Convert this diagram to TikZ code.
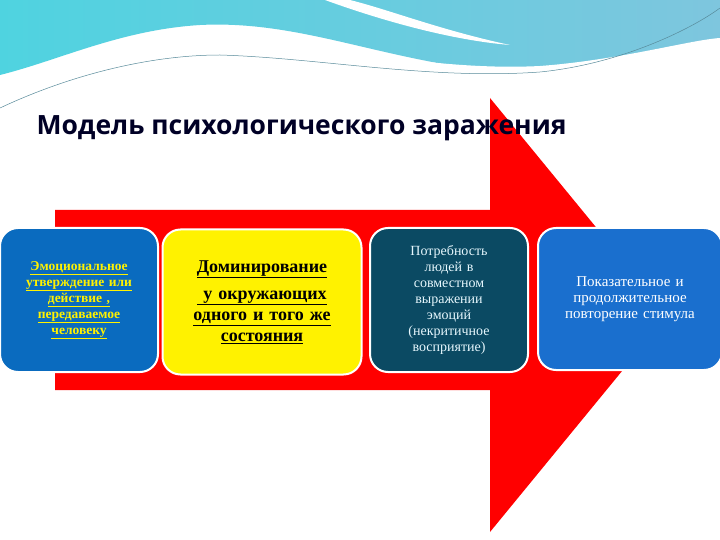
\documentclass[tikz,border=0pt]{standalone}
\usepackage{fontspec}
\setmainfont{Liberation Serif}
\newfontfamily\titlefont{Open Sans}
\definecolor{bx1}{HTML}{0A6BBF}
\definecolor{bx3}{HTML}{0B4A63}
\definecolor{bx4}{HTML}{1A6FCE}
\definecolor{sky}{HTML}{7EC6DE}
\definecolor{skyc}{HTML}{4FD3E0}
\definecolor{arrred}{HTML}{FF0000}
\tikzset{box/.style={draw=white,line width=2pt,rounded corners=18pt,align=center,inner sep=3pt}}
\begin{document}
\begin{tikzpicture}[x=1pt,y=-1pt]
\useasboundingbox (0,0) rectangle (720,540);
\fill[white] (0,0) rectangle (720,540);
% header
\shade[left color=skyc,right color=sky] (0,0) -- (720,0) -- (720,40) .. controls (640,70) and (580,75) .. (500,72) .. controls (380,60) and (300,20) .. (200,25) .. controls (120,30) and (60,60) .. (0,75) -- cycle;
\fill[white] (325,0) .. controls (380,20) and (450,40) .. (510,45) .. controls (440,30) and (390,10) .. (350,0) -- cycle;
\fill[white] (0,110) .. controls (60,60) and (140,32) .. (210,35) .. controls (300,38) and (420,72) .. (540,66) .. controls (620,60) and (690,40) .. (720,38) -- (720,540) -- (0,540) -- cycle;
\draw[sky!70!black,line width=0.5pt] (0,108) .. controls (70,75) and (150,55) .. (220,55) .. controls (320,58) and (430,80) .. (540,72) .. controls (620,64) and (690,30) .. (720,8);
% arrow
\fill[arrred] (55,210) -- (490,210) -- (490,98) -- (668,315) -- (490,532) -- (490,390) -- (55,390) -- cycle;
% title
\node[anchor=west,font=\titlefont\bfseries\fontsize{26.5}{30}\selectfont,text=black!85!blue] (title) at (33,128) {Модель психологического заражения};
% boxes
\node[box,fill=bx1,minimum width=158pt,minimum height=144pt,text=yellow,font=\bfseries\fontsize{13.5}{16}\selectfont,text width=150pt] (b1) at (79,300)
 {\underline{Эмоциональное}\\\underline{утверждение или}\\\underline{действие ,}\\\underline{передаваемое}\\\underline{человеку}};
\node[box,fill=yellow,minimum width=199pt,minimum height=145pt,text=black,font=\bfseries\fontsize{18}{21}\selectfont,text width=190pt] (b2) at (262,302)
 {\underline{Доминирование}\\[6pt]\underline{ у окружающих}\\\underline{одного и того же}\\\underline{состояния}};
\node[box,fill=bx3,minimum width=158pt,minimum height=144pt,text=cyan!10,font=\fontsize{14}{16}\selectfont,text width=150pt] (b3) at (449,300)
 {Потребность\\людей в\\совместном\\выражении\\эмоций\\(некритичное\\восприятие)};
\node[box,fill=bx4,minimum width=184pt,minimum height=142pt,text=white,font=\fontsize{15}{16}\selectfont,text width=176pt] (b4) at (630,299)
 {Показательное  и\\продолжительное\\повторение стимула};
\end{tikzpicture}
\end{document}
